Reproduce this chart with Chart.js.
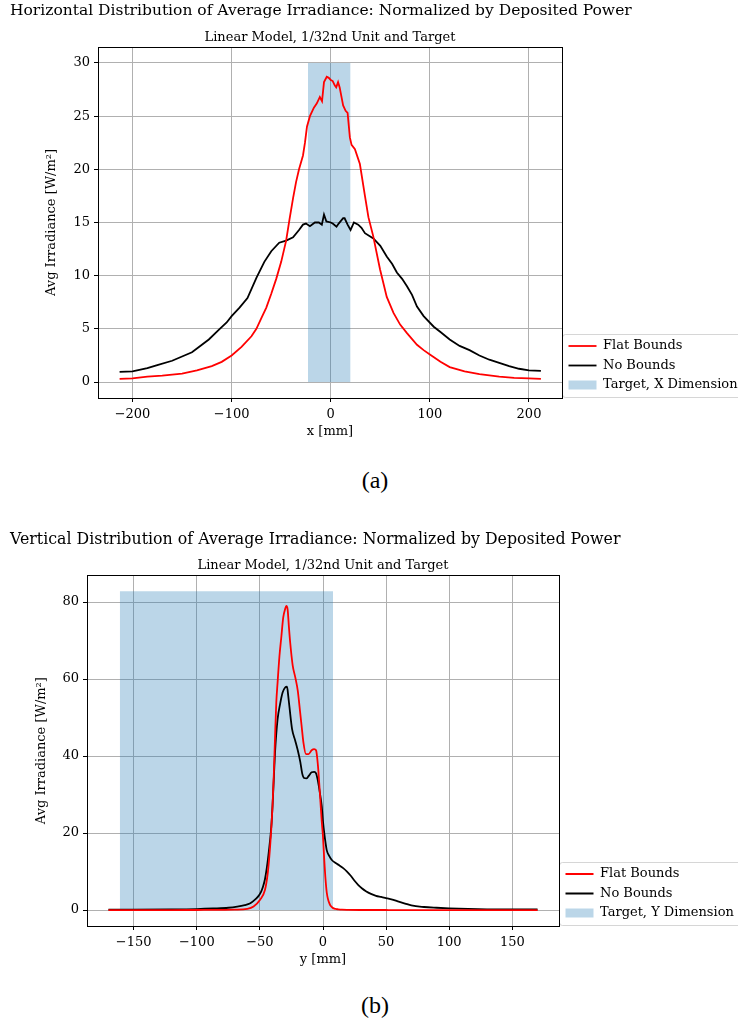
<!DOCTYPE html>
<html><head><meta charset="utf-8">
<script src="https://cdn.jsdelivr.net/npm/chart.js@4.4.0/dist/chart.umd.min.js"></script>
<style>
html,body{margin:0;padding:0;background:#fff;}
body{width:738px;height:1024px;position:relative;overflow:hidden;}
.wrap{position:absolute;left:0;width:738px;height:450px;}
.cap{position:absolute;left:0;width:750px;text-align:center;font-family:'Liberation Serif',serif;font-size:24px;color:#000;line-height:28px;}
</style></head><body>
<div class="wrap" style="top:0"><canvas id="cA" width="738" height="450"></canvas></div>
<div class="wrap" style="top:528px"><canvas id="cB" width="738" height="450"></canvas></div>
<div class="cap" style="top:466px">(a)</div>
<div class="cap" style="top:991px">(b)</div>
<script>
// ---------- Panel (a): horizontal distribution ----------
const xFlatA = [-213,-200,-185,-170,-150,-135,-120,-110,-100,-90,-80,-75,-70,-65,-60,-55,-50,-45,-41.6,-38,-35,-32,-28,-26,-24,-21,-17,-14,-11,-8.8,-6.8,-4,-2,0,2,4,5.5,7.4,9,12.5,15,17,19.3,21,24.4,29.4,34.5,38,42.9,49.7,56.5,63.3,70,76.9,87,93.7,100,110.7,120,135,150,170,185,200,212];
const yFlatA = [0.3,0.35,0.5,0.6,0.8,1.1,1.5,1.9,2.5,3.3,4.3,5.0,6.0,7.0,8.3,9.7,11.3,13.3,15.3,17.3,18.8,20.0,21.3,22.5,24.0,25.0,25.8,26.2,26.8,26.4,28.2,28.7,28.6,28.4,28.3,27.9,27.7,28.2,27.7,26.0,25.5,25.3,23.0,22.3,21.9,20.5,17.5,15.5,13.7,10.6,8.0,6.5,5.4,4.6,3.5,3.0,2.6,1.9,1.4,1.0,0.75,0.5,0.4,0.35,0.3];
const xNoA = [-213,-200,-185,-175,-160,-150,-140,-133,-123,-113,-105,-100,-92,-84,-75,-67,-60,-52,-45,-38,-32,-28,-25,-21,-16,-12,-9,-6.8,-4.4,0,2,5.8,8,12.5,14,17,20,23.4,27.7,31,34.5,43,50,56.5,62,66.7,72,76.9,82,87,93.7,103.9,110.7,120,130,140,150,160,170,180,190,200,212];
const yNoA = [0.95,1.0,1.3,1.6,2.0,2.4,2.8,3.3,4.0,4.9,5.6,6.2,7.0,7.9,9.8,11.3,12.3,13.1,13.3,13.6,14.3,14.8,14.9,14.65,15.0,15.0,14.8,15.75,15.1,15.0,14.9,14.6,14.9,15.4,15.4,14.8,14.3,15.0,14.8,14.5,14.0,13.5,12.8,11.8,11.1,10.3,9.7,9.0,8.2,7.1,6.2,5.2,4.7,4.0,3.4,3.0,2.5,2.1,1.8,1.5,1.25,1.1,1.05];
const targetXA = [-23, 20];
const targetYA = [30, 30];

// ---------- Panel (b): vertical distribution ----------
const xFlatB = [-170,-150,-120,-100,-80,-70,-60,-55,-50,-46,-44,-42.5,-41,-40,-39,-38,-37,-36,-34.5,-33,-31.5,-30,-29,-28,-27,-26,-24,-22,-20,-18,-17,-15.5,-13.5,-11.5,-9,-7,-5.5,-4,-3,-2,-1,0,1,2,3,4,5,6,8,10,12,15,20,30,50,100,150,170];
const yFlatB = [0,0,0,0.02,0.05,0.1,0.3,0.9,2.6,5.2,9,14,21,27,35,45,54,59,66,71,76,78.2,79,78,73.5,69.5,63.5,60.5,57,51,48,43.5,40.5,40.5,41.5,41.8,41.5,37.5,33,28,23,19,13,8,4.5,2.8,1.8,1.1,0.5,0.3,0.2,0.1,0.05,0.02,0.01,0,0,0];
const xNoB = [-170,-150,-120,-100,-87,-75,-68,-62,-58,-55,-51.5,-49,-47.5,-46,-44.5,-43,-41,-40,-39,-38,-36,-34,-32,-30,-28.5,-27.5,-26.5,-24.5,-22,-20,-18,-16.5,-15,-13,-11,-9,-7,-5.5,-4,-2.5,-1,0,1,2,3,5,7,10,13,16,19,22,25,28,31,34,38,42,46,50,55,60,65,70,80,90,100,115,130,150,170];
const yNoB = [0.1,0.1,0.15,0.25,0.4,0.6,0.9,1.3,1.7,2.4,3.5,4.8,6.1,8,11,15,21.5,27,34,41,49.5,53.5,56.5,57.8,58,55.5,52.5,47,44,41.5,38.5,35.5,34.3,34.2,35,35.8,35.9,35.5,33.5,30.5,27,23,20,17.5,15.5,14,13,12.2,11.6,10.9,10,8.9,7.6,6.5,5.6,4.9,4.2,3.7,3.4,3.1,2.7,2.2,1.7,1.2,0.8,0.6,0.45,0.3,0.2,0.15,0.15];
const targetXB = [-161, 8];
const targetYB = [82.8, 82.8];

const seriesLabels = ['Flat Bounds', 'No Bounds'];

Chart.defaults.font.family = "'DejaVu Serif', serif";
Chart.defaults.font.size = 13;
Chart.defaults.color = '#000';

function pts(xs, ys) { return xs.map((x, i) => ({x: x, y: ys[i]})); }
function fmt(v) { return String(v).replace('-', '\u2212'); }

const framePlugin = {
  id: 'framePlugin',
  afterDraw(chart) {
    const ctx = chart.ctx, a = chart.chartArea;
    ctx.save();
    const lg = chart.legend;
    if (lg && lg.legendHitBoxes && lg.legendHitBoxes.length) {
      const hb = lg.legendHitBoxes;
      const t = hb[0].top - 6;
      const b = hb[hb.length - 1].top + hb[hb.length - 1].height + 5;
      ctx.strokeStyle = 'rgba(204,204,204,0.8)';
      ctx.lineWidth = 1;
      ctx.beginPath();
      ctx.roundRect(Math.round(a.right) + 0.5, Math.round(t) + 0.5, 200, Math.round(b - t), 3);
      ctx.stroke();
    }
    ctx.strokeStyle = '#000';
    ctx.lineWidth = 1;
    ctx.strokeRect(Math.round(a.left) + 0.5, Math.round(a.top) + 0.5, Math.round(a.right - a.left), Math.round(a.bottom - a.top));
    ctx.restore();
  }
};

function build(id, o) {
  return new Chart(document.getElementById(id), {
    type: 'line',
    data: {
      datasets: [
        { label: seriesLabels[0], data: pts(o.xr, o.yr), borderColor: '#ff0000', backgroundColor: '#ff0000',
          borderWidth: 1.8, pointRadius: 0, pointStyle: 'line', tension: o.tension, cubicInterpolationMode: o.mode, fill: false },
        { label: seriesLabels[1], data: pts(o.xk, o.yk), borderColor: '#000000', backgroundColor: '#000000',
          borderWidth: 1.8, pointRadius: 0, pointStyle: 'line', tension: o.tension, cubicInterpolationMode: o.mode, fill: false },
        { label: o.targetLabel, data: pts(o.tx, o.ty), borderColor: 'rgba(31,119,180,0)', backgroundColor: 'rgba(31,119,180,0.3)',
          borderWidth: 0, pointRadius: 0, pointStyle: 'rect', fill: 'origin', tension: 0 }
      ]
    },
    options: {
      responsive: false,
      animation: false,
      events: [],
      layout: { padding: { left: 10, right: 0, top: 0, bottom: 0 }, autoPadding: false },
      plugins: {
        title: { display: true, text: o.title, align: 'start', font: { size: o.titleSize, weight: 'normal' }, padding: { top: 2.1, bottom: 5 }, color: '#000' },
        subtitle: { display: true, text: 'Linear Model, 1/32nd Unit and Target', fullSize: false, font: { size: 13, weight: 'normal' }, padding: { top: 4, bottom: 1.7 }, color: '#000' },
        legend: { position: 'right', align: 'end', fullSize: false, maxWidth: o.legendW,
          labels: { usePointStyle: true, pointStyleWidth: 28, boxHeight: 9, padding: 6.5, color: '#000', font: { size: 13 } } },
        tooltip: { enabled: false }
      },
      scales: {
        x: { type: 'linear', min: o.xMin, max: o.xMax,
          ticks: { stepSize: o.xStep, includeBounds: false, callback: fmt, padding: 5, maxRotation: 0, autoSkip: false, color: '#000' },
          grid: { color: '#b0b0b0', tickColor: '#000', tickLength: 4, lineWidth: 1 },
          border: { display: false },
          title: { display: true, text: o.xTitle, font: { size: 13 }, padding: { top: 0, bottom: 10.2 }, color: '#000' },
          afterFit: s => { s.height = 52; } },
        y: { type: 'linear', min: o.yMin, max: o.yMax,
          ticks: { stepSize: o.yStep, includeBounds: false, callback: fmt, padding: 4, autoSkip: false, color: '#000' },
          grid: { color: '#b0b0b0', tickColor: '#000', tickLength: 4, lineWidth: 1 },
          border: { display: false },
          title: { display: true, text: 'Avg Irradiance [W/m\u00b2]', font: { size: 13 }, padding: { top: o.yPad, bottom: 0 }, color: '#000' },
          afterFit: s => { s.width = o.yW; } }
      }
    },
    plugins: [framePlugin]
  });
}

build('cA', {
  title: 'Horizontal Distribution of Average Irradiance: Normalized by Deposited Power', titleSize: 15.5,
  xr: xFlatA, yr: yFlatA, xk: xNoA, yk: yNoA, tx: targetXA, ty: targetYA,
  targetLabel: 'Target, X Dimension', tension: 0, mode: 'default',
  xMin: -234.8, xMax: 233.3, xStep: 100, yMin: -1.5, yMax: 31.5, yStep: 5,
  xTitle: 'x [mm]', legendW: 176, yW: 88, yPad: 34.2
});
build('cB', {
  title: 'Vertical Distribution of Average Irradiance: Normalized by Deposited Power', titleSize: 15.8,
  xr: xFlatB, yr: yFlatB, xk: xNoB, yk: yNoB, tx: targetXB, ty: targetYB,
  targetLabel: 'Target, Y Dimension', tension: 0.4, mode: 'monotone',
  xMin: -187, xMax: 187, xStep: 50, yMin: -4.14, yMax: 86.94, yStep: 20,
  xTitle: 'y [mm]', legendW: 179, yW: 77, yPad: 24.2
});
</script>
</body></html>
